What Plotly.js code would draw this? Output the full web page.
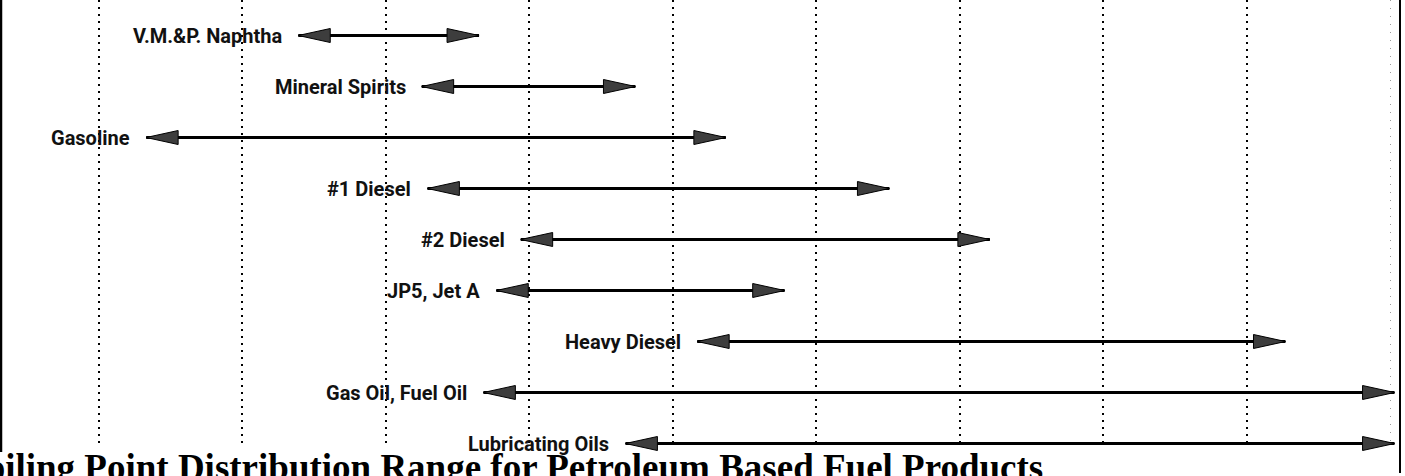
<!DOCTYPE html>
<html>
<head>
<meta charset="utf-8">
<script src="https://cdn.plot.ly/plotly-3.0.1.min.js"></script>
<style>
  html, body { margin: 0; padding: 0; background: #ffffff; overflow: hidden; }
  #chart { width: 1405px; height: 476px; }
</style>
</head>
<body>
<div id="chart"></div>
<script>
// ---- data (boiling range ends; gridlines every 100 units) ----
const products  = ["V.M.&P. Naphtha", "Mineral Spirits", "Gasoline", "#1 Diesel", "#2 Diesel",
                   "JP5, Jet A", "Heavy Diesel", "Gas Oil, Fuel Oil", "Lubricating Oils"];
const rangeLow  = [139, 225, 33, 229, 294, 277, 417, 268, 367];
const rangeHigh = [265, 374, 437, 551, 621, 478, 827, 903, 903];
const gridTicks = [0, 100, 200, 300, 400, 500, 600, 700, 800];
const faintTick = [900];
const chartTitle = "Boiling Point Distribution Range for Petroleum Based Fuel Products";

// ---- styling / layout constants ----
const W = 1405, H = 476;
const xRange = [-68.15, 906.8];
const labelFont = { family: "Roboto, 'Liberation Sans', sans-serif",
                    size: 20, color: "#111111", weight: "bold" };
const headLen = 32, headHalf = 7;

const traces = [];
// hidden trace to make subplot 1 (gridlines) exist
traces.push({ x: [xRange[0]], y: [0], xaxis: "x", yaxis: "y", mode: "markers",
              marker: { opacity: 0 }, hoverinfo: "skip", showlegend: false });

products.forEach((p, i) => {
  traces.push({
    x: [rangeLow[i], rangeHigh[i]], y: [i, i],
    xaxis: "x2", yaxis: "y2", mode: "lines",
    line: { color: "#000000", width: 3 },
    hoverinfo: "skip", showlegend: false
  });
});

const shapes = [];
products.forEach((p, i) => {
  shapes.push({ type: "path", xref: "x2", yref: "y2", xsizemode: "pixel", ysizemode: "pixel",
    xanchor: rangeLow[i], yanchor: i,
    path: `M0,0 L${headLen},${-headHalf} L${headLen},${headHalf} Z`,
    fillcolor: "#3d3d3d", line: { color: "#000000", width: 1 }, layer: "above" });
  shapes.push({ type: "path", xref: "x2", yref: "y2", xsizemode: "pixel", ysizemode: "pixel",
    xanchor: rangeHigh[i], yanchor: i,
    path: `M0,0 L${-headLen},${-headHalf} L${-headLen},${headHalf} Z`,
    fillcolor: "#3d3d3d", line: { color: "#000000", width: 1 }, layer: "above" });
});
// frame sides
shapes.push({ type: "line", xref: "paper", yref: "paper", x0: 0, x1: 0, y0: 1, y1: (H - 452) / H,
              line: { color: "#000000", width: 2.5 } });
shapes.push({ type: "line", xref: "paper", yref: "paper", x0: 1, x1: 1, y0: 1, y1: (H - 473) / H,
              line: { color: "#000000", width: 2 } });

const annotations = products.map((p, i) => ({
  xref: "x2", yref: "y2", x: rangeLow[i], y: i, text: p, showarrow: false,
  xanchor: "right", yanchor: "middle", xshift: -14, font: labelFont
}));
annotations.push({
  xref: "paper", yref: "paper", x: (1045 - 1) / 1399, y: (H - 445) / H,
  xanchor: "right", yanchor: "top", showarrow: false, text: chartTitle,
  font: { family: "'Liberation Serif', 'Times New Roman', serif", size: 37, color: "#000000", weight: "bold" }
});

const layout = {
  width: W, height: H,
  margin: { l: 1, r: 5, t: 0, b: 0, pad: 0 },
  paper_bgcolor: "#ffffff", plot_bgcolor: "rgba(0,0,0,0)",
  showlegend: false,
  xaxis: { range: xRange, domain: [0, 1], anchor: "y", tickvals: gridTicks, showticklabels: false, ticks: "",
           showgrid: true, gridcolor: "#000000", gridwidth: 2, griddash: "2px,5px",
           zeroline: false, showline: false, fixedrange: true,
           minor: { tickvals: faintTick, showgrid: true, gridcolor: "#9a9a9a", gridwidth: 1, griddash: "1px,7px", ticks: "" } },
  yaxis: { domain: [(H - 443) / H, 1], range: [0, 1], anchor: "x", showgrid: false, zeroline: false,
           showticklabels: false, ticks: "", showline: false, fixedrange: true },
  xaxis2: { range: xRange, domain: [0, 1], anchor: "y2", visible: false, showgrid: false, zeroline: false, fixedrange: true },
  yaxis2: { domain: [(H - 456) / H, 1], range: [8.245, -0.696], anchor: "x2", visible: false,
            showgrid: false, zeroline: false, fixedrange: true },
  shapes: shapes,
  annotations: annotations
};

Plotly.newPlot("chart", traces, layout, { staticPlot: true, displayModeBar: false });
</script>
</body>
</html>
